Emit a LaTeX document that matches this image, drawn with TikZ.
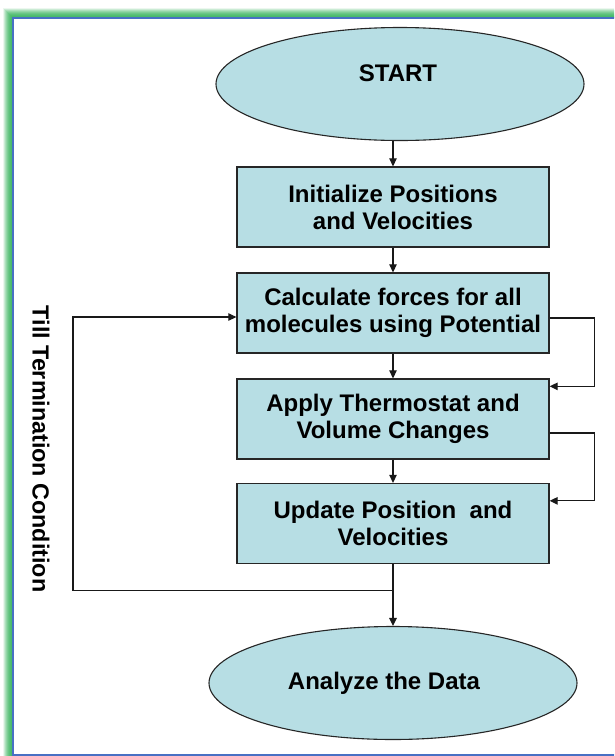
\documentclass[tikz,border=0pt]{standalone}
\usepackage{fontspec}
\setmainfont{Liberation Sans}
\usetikzlibrary{shapes.geometric,arrows.meta}
\definecolor{stepfill}{RGB}{183,222,228}
\definecolor{glowgreen}{RGB}{70,185,105}
\definecolor{rimblue}{RGB}{72,112,196}
\newcommand{\flowfont}{\fontsize{24}{27}\selectfont\bfseries}
\tikzset{
  stepbox/.style={draw=black!85, line width=1.3pt, fill=stepfill, minimum width=312pt,
    minimum height=80pt, inner sep=0pt, align=center, font=\flowfont},
  terminal/.style={ellipse, draw=black!85, line width=1.1pt, fill=stepfill,
    minimum width=368pt, minimum height=113pt, inner sep=0pt},
  flow/.style={line width=1.2pt, black!90, -{Triangle[length=8pt,width=7.5pt]}}
}
\begin{document}
\begin{tikzpicture}[x=1pt,y=-1pt]
\useasboundingbox (0,0) rectangle (614,756);
\fill[white] (0,0) rectangle (614,756);
\begin{scope}
\clip (0,0) rectangle (614,756);
\foreach \d [evaluate=\d as \op using 1-\d/10] in {1,...,9}
  \draw[glowgreen, opacity=\op, line width=1.1pt] (13-\d,18-\d) rectangle (640+\d,790);
\draw[rimblue, line width=2.2pt] (13,18) rectangle (640,755);
\end{scope}
\node[terminal, label={[yshift=11pt, xshift=-2pt, font=\flowfont]center:START}] (start) at (400,84) {};
\node[stepbox] (init) at (393,207) {Initialize Positions\\and Velocities};
\node[stepbox] (forces) at (393,313) {Calculate forces for all\\molecules using Potential};
\node[stepbox] (thermo) at (393,419) {Apply Thermostat and\\Volume Changes};
\node[stepbox] (update) at (393,523.5) {Update Position~~and\\Velocities};
\node[terminal, label={[xshift=-9pt, font=\flowfont]center:Analyze the Data}] (analyze) at (393,683) {};
\node[rotate=-90, font=\fontsize{23.3}{26}\selectfont\bfseries] (till) at (41,449) {Till Termination Condition};
\draw[flow] (init.north |- start.south) -- (init.north);
\draw[flow] (init) -- (forces);
\draw[flow] (forces) -- (thermo);
\draw[flow] (thermo) -- (update);
\draw[flow] (update) -- (analyze);
\coordinate (split) at ([yshift=-26.5pt]update.south);
\draw[flow] (split) -- ++(-320,0) |- ([yshift=-4pt]forces.west);
\draw[flow] ([yshift=-5pt]forces.east) -- ++(45,0) |- ([yshift=-8pt]thermo.north east);
\draw[flow] ([yshift=-14pt]thermo.east) -- ++(45,0) |- ([yshift=-18pt]update.north east);
\end{tikzpicture}
\end{document}
